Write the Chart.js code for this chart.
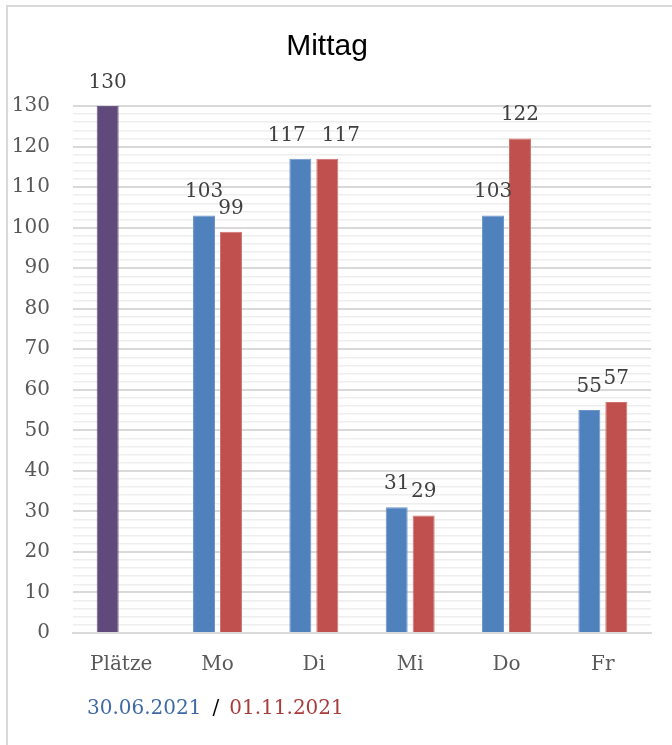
<!DOCTYPE html>
<html>
<head>
<meta charset="utf-8">
<script src="https://cdn.jsdelivr.net/npm/chart.js@4/dist/chart.umd.min.js"></script>
<style>
  html, body { margin: 0; padding: 0; background: #fff; }
  #wrap { position: relative; width: 672px; height: 745px; overflow: hidden; }
  #frame { position: absolute; left: 6px; top: 5px; width: 700px; height: 800px;
           border-left: 2px solid #d9d9d9; border-top: 2px solid #d9d9d9; }
  #c { position: absolute; left: 0; top: 0; }
  #footer { position: absolute; left: 87px; top: 695px; font-family: "DejaVu Serif"; font-size: 20px;
            line-height: 24px; white-space: nowrap; }
  #footer .s1 { color: #3f6aa6; }
  #footer .sl { color: #000; margin-left: 11px; }
  #footer .s2 { color: #a83c3a; margin-left: 10px; }
</style>
</head>
<body>
<div id="wrap">
  <div id="frame"></div>
  <canvas id="c" width="672" height="745"></canvas>
  <div id="footer"><span class="s1" id="f1"></span><span class="sl">/</span><span class="s2" id="f2"></span></div>
</div>
<script>
// ---- data ----
const chartTitle = 'Mittag';
const categories = ['Plätze', 'Mo', 'Di', 'Mi', 'Do', 'Fr'];
const series1Label = '30.06.2021';
const series1 = [130, 103, 117, 31, 103, 55];
const series2Label = '01.11.2021';
const series2 = [null, 99, 117, 29, 122, 57];
const yMin = 0;
const yMax = 130;
const majorStep = 10;
const minorStep = 2;

// ---- styles ----
const BLUE = '#4f81bd', RED = '#c0504d', PURPLE = '#604a7b';
const series1Colors = categories.map((c, i) => i === 0 ? PURPLE : BLUE);
const series1Borders = categories.map((c, i) => i === 0 ? '#6e5a88' : '#6d96c9');

document.getElementById('f1').textContent = series1Label;
document.getElementById('f2').textContent = series2Label;

// value labels above bars, pushed apart horizontally only when two labels actually overlap
const valueLabels = {
  id: 'valueLabels',
  afterDatasetsDraw(chart) {
    const ctx = chart.ctx;
    const LABEL_GAP = 16, LIFT = 18, TEXT_H = 15;
    ctx.save();
    ctx.font = '20px "DejaVu Serif"';
    ctx.fillStyle = '#404040';
    ctx.textAlign = 'center';
    ctx.textBaseline = 'alphabetic';
    const n = chart.data.labels.length;
    for (let i = 0; i < n; i++) {
      const items = [];
      chart.data.datasets.forEach((ds, di) => {
        const v = ds.data[i];
        if (v === null || v === undefined) return;
        const el = chart.getDatasetMeta(di).data[i];
        const t = String(v);
        items.push({ t, x: el.x, y: el.y - LIFT, w: ctx.measureText(t).width });
      });
      if (items.length === 2) {
        const [a, b] = items;
        const vOverlap = Math.abs(a.y - b.y) < TEXT_H;
        const touch = (a.w + b.w) / 2;
        const dist = b.x - a.x;
        if (vOverlap && dist < touch) {
          const s = (touch + LABEL_GAP - dist) / 2;
          a.x -= s; b.x += s;
        }
      }
      items.forEach(it => ctx.fillText(it.t, it.x, it.y));
    }
    ctx.restore();
  }
};

new Chart(document.getElementById('c'), {
  type: 'bar',
  data: {
    labels: categories,
    datasets: [
      { label: series1Label, data: series1, backgroundColor: series1Colors,
        borderColor: series1Borders, borderWidth: 1,
        categoryPercentage: 0.56, barPercentage: 0.815 },
      { label: series2Label, data: series2, backgroundColor: RED,
        borderColor: '#cf7270', borderWidth: 1,
        categoryPercentage: 0.56, barPercentage: 0.815 }
    ]
  },
  options: {
    responsive: false,
    animation: false,
    layout: { padding: { left: 3, right: 21, top: 0, bottom: 68 } },
    plugins: {
      legend: { display: false },
      tooltip: { enabled: false },
      title: {
        display: true, text: chartTitle, color: '#000',
        font: { family: '"Liberation Sans"', size: 30, weight: 'normal' },
        padding: { top: 29, bottom: 41 }
      }
    },
    scales: {
      x: {
        grid: { display: false, drawTicks: false },
        border: { display: true, color: '#d9d9d9', width: 2 },
        ticks: { color: '#595959', font: { family: '"DejaVu Serif"', size: 20 }, padding: 20, maxRotation: 0 },
        afterFit: s => { s.height = 44; s.paddingLeft = 0; s.paddingRight = 0; }
      },
      y: {
        min: yMin, max: yMax,
        border: { display: false },
        grid: {
          drawTicks: false,
          color: c => (c.tick && c.tick.value % majorStep === 0) ? '#d9d9d9' : '#eeeeee',
          lineWidth: c => (c.tick && c.tick.value % majorStep === 0) ? 2 : 1.5
        },
        ticks: {
          stepSize: minorStep, autoSkip: false, padding: 23,
          color: '#595959', font: { family: '"DejaVu Serif"', size: 20 },
          callback: v => (v % majorStep === 0) ? String(v) : ''
        },
        afterFit: s => { s.width = 70; s.paddingTop = 0; s.paddingBottom = 0; }
      }
    }
  },
  plugins: [valueLabels]
});
</script>
</body>
</html>
